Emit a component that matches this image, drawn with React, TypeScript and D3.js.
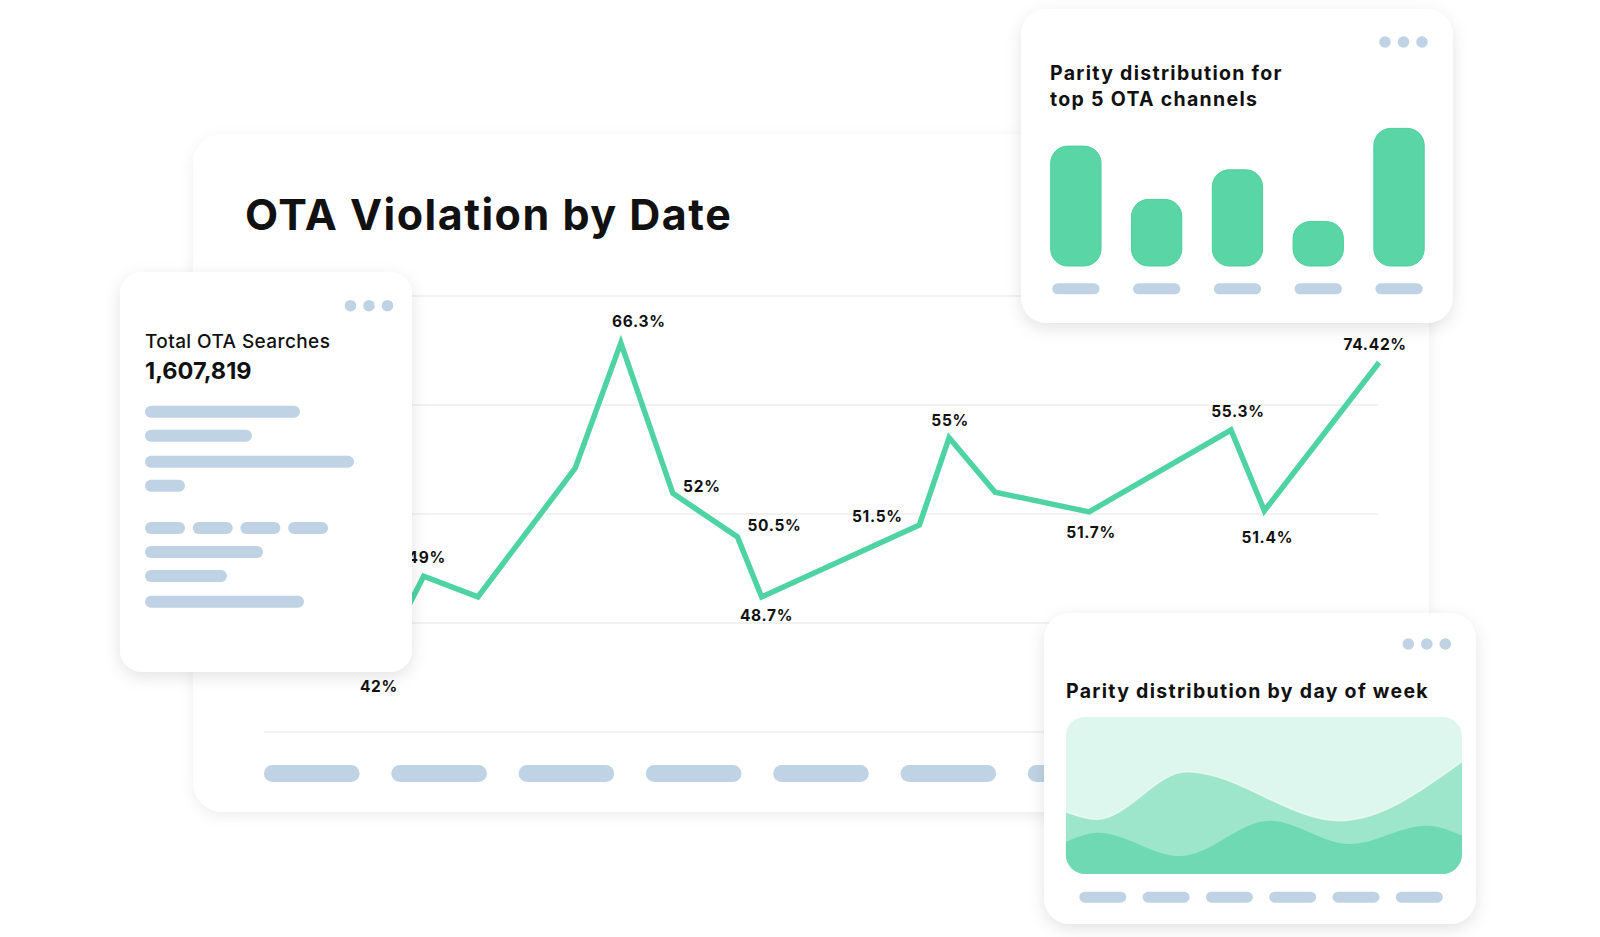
import React from 'react';
import * as d3 from 'd3';

// --- main line chart: OTA violation by date ---
// position along the date axis (in days) and the plotted level read off the gridlines
const dayPos = [3.07, 4.3, 5.76, 8.38, 9.61, 11.01, 12.75, 13.4, 17.65, 18.45, 19.69, 22.22, 26.04, 26.94, 30.03];
const violationLevel = [46.1, 54.3, 52.4, 64.2, 75.7, 61.9, 57.9, 52.4, 59.0, 67.0, 62.0, 60.2, 67.7, 60.3, 73.9];
const pointLabels = ['42%', '49%', null, null, '66.3%', '52%', '50.5%', '48.7%', '51.5%', '55%', null, '51.7%', '55.3%', '51.4%', '74.42%'];
const gridLevels = [40, 50, 60, 70, 80];
const dateSlots = ['d1', 'd2', 'd3', 'd4', 'd5', 'd6', 'd7', 'd8', 'd9'];

// --- top 5 OTA channels ---
const channels = ['ch1', 'ch2', 'ch3', 'ch4', 'ch5'];
const channelParity = [81, 45, 65, 30, 93];

// --- by day of week (stacked area bands) ---
const weekSlots = ['w1', 'w2', 'w3', 'w4', 'w5', 'w6'];
const midBand: [number, number][] = [[0, 39.6], [0.47, 34.7], [1.83, 65.0], [4.15, 33.9], [6, 71.4]];
const lowBand: [number, number][] = [[0, 20.5], [0.49, 26.3], [1.73, 11.4], [3.09, 33.9], [4.3, 19.1], [5.46, 30.7], [6, 24.4]];

// label nudges relative to their point [dx, dy]
const labelNudge: ([number, number] | null)[] = [
  [1, 21], [3, -19], null, null, [18, -21], [29, -7], [37, -11], [5, 19],
  [-42, -8], [1, -17], null, [2, 21], [7, -19], [3, 27], [-4, -18],
];

const FONT = 'Inter, "Noto Sans", sans-serif';
const GREEN = '#4fd3a3';
const PILL = '#bfd3e4';
const INK = '#111111';

const Dots = ({ x, y }: { x: number; y: number }) => (
  <g fill={PILL}>
    {[0, 1, 2].map(i => <circle key={i} cx={x + i * 18.5} cy={y} r={5.8} />)}
  </g>
);

const Pill = ({ x, y, w, h }: { x: number; y: number; w: number; h: number }) => (
  <rect x={x} y={y} width={w} height={h} rx={h / 2} fill={PILL} />
);

export default function App() {
  // main chart scales
  const x = d3.scaleLinear().domain([0, 30]).range([264, 1378]);
  const y = d3.scaleLinear().domain([40, 80]).range([732, 296]);
  const pts = dayPos.map((d, i) => [x(d), y(violationLevel[i])] as [number, number]);
  const linePath = d3.line().curve(d3.curveLinear)(pts) || '';
  const slotX = d3.scaleBand().domain(dateSlots).range([264, 1378]).paddingInner(0.249);

  // left card skeleton lines
  const skeleton = [
    { y: 405.7, w: [155] }, { y: 429.7, w: [107] }, { y: 455.7, w: [209] }, { y: 479.7, w: [40] },
    { y: 522, w: [40, 40, 40, 40] }, { y: 546, w: [118] }, { y: 570, w: [82] }, { y: 595.7, w: [159] },
  ];

  // bar card scales
  const bx = d3.scaleBand().domain(channels).range([1050.7, 1424.2]).paddingInner(0.377);
  const by = d3.scaleLinear().domain([0, 100]).range([266, 118]);

  // area card scales
  const box = { x: 1065.7, y: 716.7, w: 396.3, h: 157.3 };
  const ax = d3.scaleLinear().domain([0, 6]).range([box.x, box.x + box.w]);
  const ay = d3.scaleLinear().domain([0, 100]).range([box.y + box.h, box.y]);
  const area = d3.area<[number, number]>()
    .curve(d3.curveMonotoneX)
    .x(d => ax(d[0]))
    .y0(ay(-5))
    .y1(d => ay(d[1]));
  const edge = d3.line<[number, number]>().curve(d3.curveMonotoneX).x(d => ax(d[0])).y(d => ay(d[1]));
  const wx = d3.scaleBand().domain(weekSlots).range([1079.3, 1442.8]).paddingInner(0.2575);

  return (
    <svg width={1600} height={937} style={{ position: 'absolute', left: 0, top: 0, background: '#fff' }}
      fontFamily={FONT}>
      <defs>
        <filter id="shadow" x="-20%" y="-20%" width="140%" height="150%">
          <feDropShadow dx="0" dy="5" stdDeviation="8" floodColor="#000" floodOpacity="0.11" />
        </filter>
        <filter id="shadowSoft" x="-10%" y="-10%" width="120%" height="130%">
          <feDropShadow dx="0" dy="4" stdDeviation="7" floodColor="#000" floodOpacity="0.07" />
        </filter>
        <clipPath id="areaClip">
          <rect x={box.x} y={box.y} width={box.w} height={box.h} rx={20} />
        </clipPath>
      </defs>
      <rect width={1600} height={937} fill="#fff" />

      {/* main card */}
      <rect x={193} y={134} width={1236} height={678} rx={30} fill="#fff" filter="url(#shadowSoft)" />
      <text x={245} y={230} fontSize={43} fontWeight={700} letterSpacing={1.5} fill={INK}>OTA Violation by Date</text>

      {gridLevels.map(g => (
        <line key={g} x1={264} x2={1378} y1={y(g)} y2={y(g)} stroke="#eeeeee" strokeWidth={1.5} />
      ))}
      {dateSlots.map(s => (
        <Pill key={s} x={slotX(s) || 0} y={765} w={slotX.bandwidth()} h={17} />
      ))}
      <path d={linePath} fill="none" stroke={GREEN} strokeWidth={5.5} strokeLinejoin="miter" />
      {pts.map((p, i) => {
        const lbl = pointLabels[i];
        const n = labelNudge[i];
        if (!lbl || !n) return null;
        return (
          <text key={i} x={p[0] + n[0]} y={p[1] + n[1]} textAnchor="middle" dominantBaseline="central"
            fontSize={15.5} fontWeight={700} letterSpacing={0.7} fill={INK}>{lbl}</text>
        );
      })}

      {/* left card: total searches */}
      <rect x={120} y={272} width={292} height={400} rx={22} fill="#fff" filter="url(#shadow)" />
      <Dots x={350.5} y={305.7} />
      <text x={145} y={348} fontSize={19} fontWeight={500} letterSpacing={0.4} fill={INK}>Total OTA Searches</text>
      <text x={145} y={379} fontSize={23.5} fontWeight={700} fill={INK}>1,607,819</text>
      {skeleton.map((row, r) => {
        let cx = 145;
        return row.w.map((w, k) => {
          const el = <Pill key={`${r}-${k}`} x={cx} y={row.y} w={w} h={12} />;
          cx += w + 7.7;
          return el;
        });
      })}

      {/* top right card: bars */}
      <rect x={1021} y={9} width={432} height={314} rx={26} fill="#fff" filter="url(#shadow)" />
      <Dots x={1385} y={42} />
      <text x={1050} y={80} fontSize={19.5} fontWeight={700} letterSpacing={1.3} fill={INK}>Parity distribution for</text>
      <text x={1050} y={106} fontSize={19.5} fontWeight={700} letterSpacing={1.3} fill={INK}>top 5 OTA channels</text>
      {channels.map((c, i) => (
        <g key={c}>
          <rect x={bx(c)} y={by(channelParity[i])} width={bx.bandwidth()} height={by(0) - by(channelParity[i])}
            rx={17} fill="#59d5a6" stroke="#4dcf9c" strokeWidth={1} />
          <Pill x={(bx(c) || 0) + 1.5} y={283.3} w={bx.bandwidth() - 3} h={11} />
        </g>
      ))}

      {/* bottom right card: areas */}
      <rect x={1044} y={613} width={432} height={311} rx={26} fill="#fff" filter="url(#shadow)" />
      <Dots x={1408.3} y={644} />
      <text x={1066} y={697.7} fontSize={19.5} fontWeight={700} letterSpacing={1.3} fill={INK}>Parity distribution by day of week</text>
      <g clipPath="url(#areaClip)">
        <rect x={box.x} y={box.y} width={box.w} height={box.h} fill="#ddf6ee" />
        <path d={area(midBand) || ''} fill="#9de6cb" />
        <path d={edge(midBand) || ''} fill="none" stroke="#fff" strokeOpacity={0.55} strokeWidth={1.5} />
        <path d={area(lowBand) || ''} fill="#6fd9b3" />
      </g>
      {weekSlots.map(s => (
        <Pill key={s} x={wx(s) || 0} y={891.7} w={wx.bandwidth()} h={11} />
      ))}
    </svg>
  );
}
